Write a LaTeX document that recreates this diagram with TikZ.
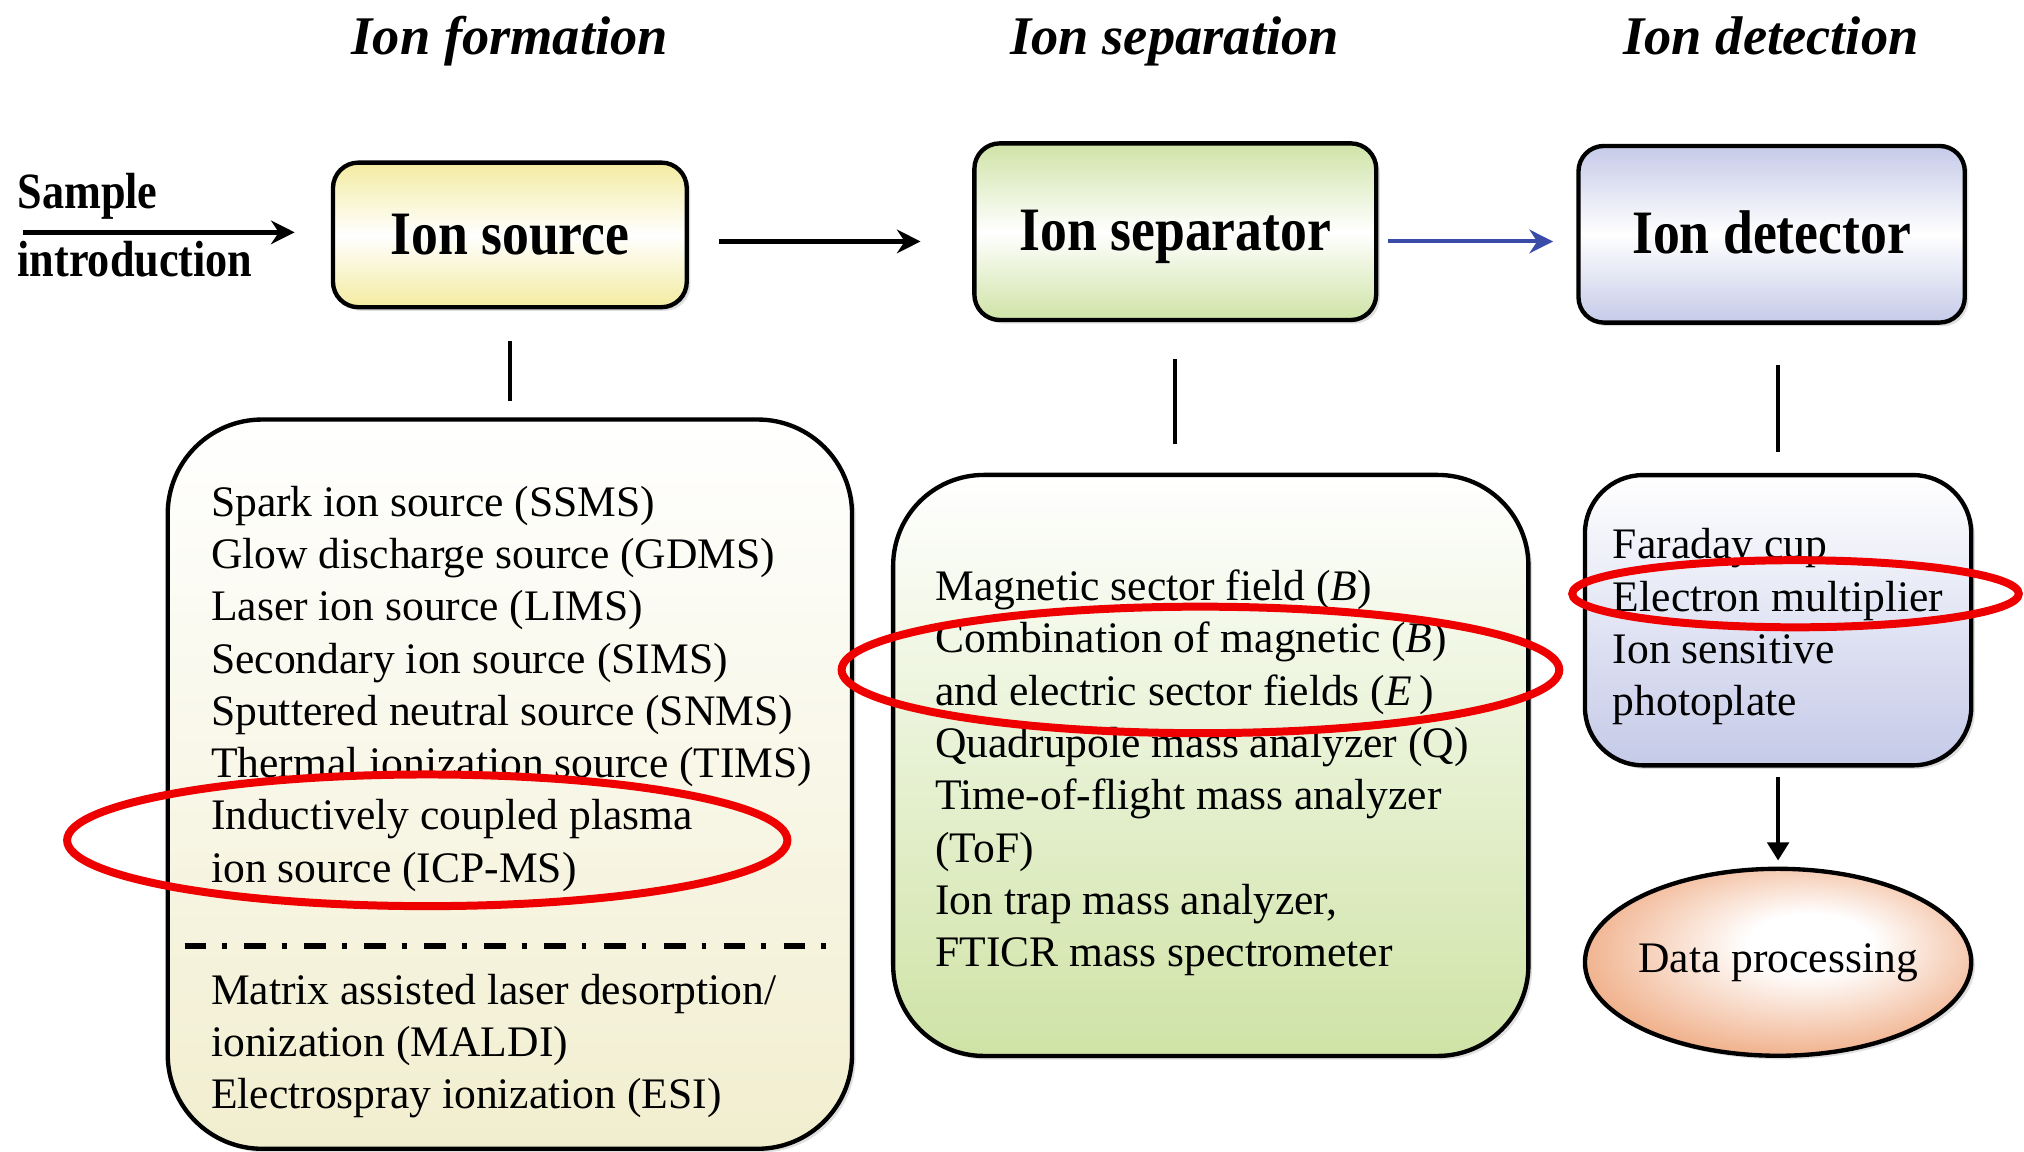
\documentclass[tikz,border=0pt]{standalone}
\usepackage{fontspec}
\setmainfont{Liberation Serif}
\newfontfamily\narrowserif[FakeStretch=0.87]{Liberation Serif}
\usetikzlibrary{shapes.geometric, arrows.meta, positioning, calc, shadows}
\definecolor{srcyellow}{HTML}{F3EBA0}
\definecolor{sepgreen}{HTML}{CFE3A6}
\definecolor{detblue}{HTML}{C5CAE8}
\definecolor{listyellow}{HTML}{F1EECF}
\definecolor{dataorange}{HTML}{EC9A6A}
\definecolor{arrowblue}{HTML}{3A4BA8}
\definecolor{markred}{HTML}{EE0000}
\newcommand{\vecsym}[1]{\textit{#1}}
\pgfdeclareradialshading{dataglow}{\pgfpoint{5bp}{6bp}}{color(0bp)=(white); color(8bp)=(white); color(34bp)=(dataorange); color(50bp)=(dataorange)}

\begin{document}
\begin{tikzpicture}[x=0.0125cm, y=0.0125cm,
    stagetitle/.style={anchor=base, font=\fontsize{15}{18}\selectfont\bfseries\itshape},
    stagebox/.style={draw=black, line width=1.2pt, rounded corners=7pt,
      text height=12pt, text depth=1.4pt,
      drop shadow={opacity=0.25, shadow xshift=1pt, shadow yshift=-1pt},
      font=\narrowserif\bfseries\fontsize{17}{20}\selectfont},
    listbox/.style={draw=black, line width=1.2pt,
      drop shadow={opacity=0.25, shadow xshift=1pt, shadow yshift=-1pt}},
    listtext/.style={align=left, inner sep=0pt, anchor=north west,
      font=\fontsize{12}{14.4}\selectfont},
    flowarrow/.style={line width=1.4pt, -{Stealth[length=6.5pt, width=6.5pt]}},
    bluearrow/.style={draw=arrowblue, line width=1.1pt, -{Stealth[length=6.5pt, width=6.5pt]}},
    stem/.style={line width=1.2pt},
    downarrow/.style={line width=0.9pt, -{Triangle[length=5pt, width=6pt]}},
    markring/.style={draw=markred, line width=2.2pt}]
  \useasboundingbox (0,0) rectangle (1568,-892);

  % stage titles
  \node[stagetitle] (titleform) at (395,-42) {Ion formation};
  \node[stagetitle] (titlesep) at (910,-42) {Ion separation};
  \node[stagetitle] (titledet) at (1372,-42) {Ion detection};

  % top row of units
  \node[align=left, inner sep=0pt, anchor=north west,
        font=\narrowserif\bfseries\fontsize{14}{18.5}\selectfont]
        (samplelabel) at (13,-134) {Sample\\introduction};
  \node[stagebox, top color=srcyellow, bottom color=srcyellow, middle color=white,
        minimum width=3.425cm, minimum height=1.4cm] (src) at (395,-182) {Ion source};
  \node[stagebox, top color=sepgreen, bottom color=sepgreen, middle color=white,
        minimum width=3.89cm, minimum height=1.71cm] (sep) at (910.5,-179.5) {Ion separator};
  \node[stagebox, top color=detblue, bottom color=detblue, middle color=white,
        minimum width=3.74cm, minimum height=1.71cm] (det) at (1372.5,-181.5) {Ion detector};

  % lists of techniques
  \node[listbox, rounded corners=26pt, top color=white, bottom color=listyellow,
        minimum width=6.625cm, minimum height=7.06cm] (srclist) at (395,-607.5) {};
  \node[listbox, rounded corners=25pt, top color=white, bottom color=sepgreen,
        minimum width=6.15cm, minimum height=5.625cm] (seplist) at (938,-593) {};
  \node[listbox, rounded corners=16pt, top color=white, bottom color=detblue,
        minimum width=3.74cm, minimum height=2.81cm] (detlist) at (1377.5,-480.5) {};
  \node[draw=black, line width=1.2pt, ellipse, shading=dataglow,
        inner sep=0pt, inner xsep=-3pt,
        drop shadow={opacity=0.25, shadow xshift=1pt, shadow yshift=-1pt},
        minimum width=3.74cm, minimum height=1.81cm,
        font=\fontsize{12}{14.4}\selectfont] (data) at (1377.5,-745.5) {Data processing};

  \node[listtext] (srcitems) at (163,-376) {Spark ion source (SSMS)\\
    Glow discharge source (GDMS)\\
    Laser ion source (LIMS)\\
    Secondary ion source (SIMS)\\
    Sputtered neutral source (SNMS)\\
    Thermal ionization source (TIMS)\\
    Inductively coupled plasma\\
    ion source (ICP-MS)};
  \node[listtext] (srcsoft) at (163,-754) {Matrix assisted laser desorption/\\
    ionization (MALDI)\\
    Electrospray ionization (ESI)};
  \draw[line width=1.6pt, dash pattern=on 6pt off 4.4pt on 1.3pt off 4.8pt]
    (143,-733) -- (650,-733);
  \node[listtext] (sepitems) at (724,-441) {Magnetic sector field (\vecsym{B})\\
    Combination of magnetic (\vecsym{B})\\
    and electric sector fields (\vecsym{E}\,)\\
    Quadrupole mass analyzer (Q)\\
    Time-of-flight mass analyzer\\
    (ToF)\\
    Ion trap mass analyzer,\\
    FTICR mass spectrometer};
  \node[listtext] (detitems) at (1249,-409) {Faraday cup\\
    Electron multiplier\\
    Ion sensitive\\
    photoplate};

  % connectors
  \coordinate (samplein) at (18,-180);
  \draw[flowarrow, shorten >=0.35cm] (samplein) -- (samplein -| src.west);
  \draw[flowarrow, shorten <=0.29cm, shorten >=0.5cm]
    ([yshift=-1.8pt]src.east) -- ([yshift=-1.8pt]src.east -| sep.west);
  \draw[bluearrow, shorten <=0.09cm, shorten >=0.225cm]
    ([yshift=-2.7pt]sep.east) -- ([yshift=-2.7pt]sep.east -| det.west);
  \draw[stem, shorten <=0.31cm, shorten >=0.16cm] (src.south) -- (srclist.north);
  \draw[stem, shorten <=0.36cm, shorten >=0.275cm] (sep.south) -- (sep.south |- seplist.north);
  \draw[stem, shorten <=0.39cm, shorten >=0.2cm] (det.south -| detlist.north) -- (detlist.north);
  \draw[downarrow, shorten <=0.09cm, shorten >=0.06cm] (detlist.south) -- (data.north);

  % highlighted items
  \draw[markring] (331,-651) ellipse (279 and 51);
  \draw[markring] (930,-519) ellipse (278 and 49);
  \draw[markring] (1391,-460) ellipse (173 and 26);
\end{tikzpicture}
\end{document}
